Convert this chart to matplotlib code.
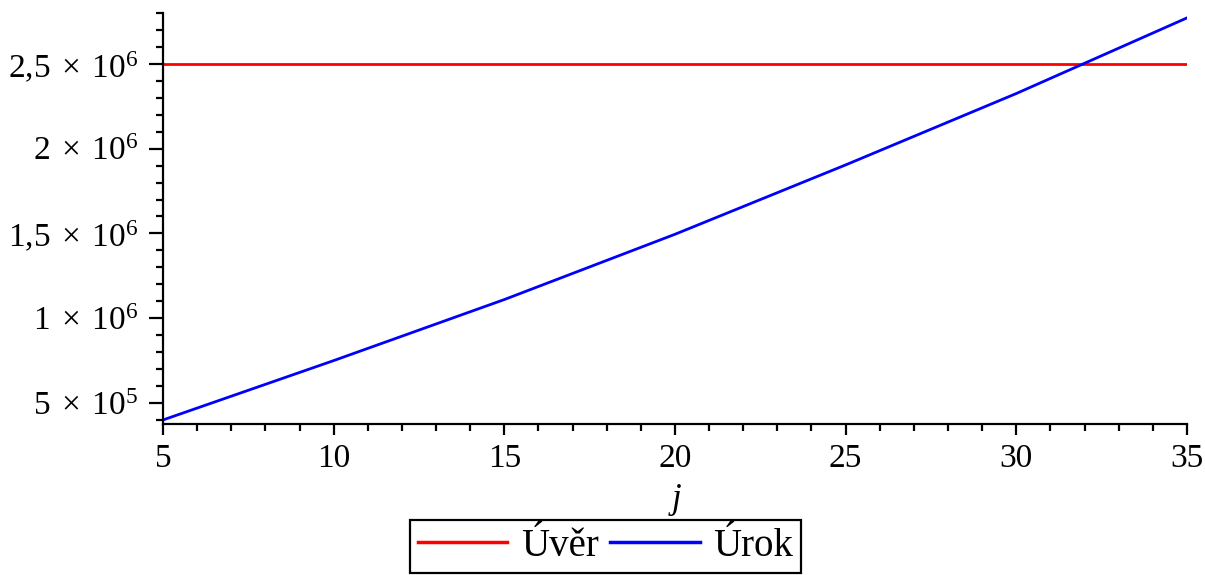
import matplotlib
matplotlib.use('Agg')
import matplotlib.pyplot as plt
from matplotlib.ticker import MultipleLocator, FuncFormatter

# values
j_vals = [5, 10, 15, 20, 25, 30, 35]
urok = [400000, 750000, 1110000, 1495000, 1904000, 2325000, 2771000]
uver = [2500000, 2500000]
uver_j = [5, 35]

plt.rcParams['font.family'] = ['Liberation Serif', 'DejaVu Serif']
plt.rcParams['mathtext.fontset'] = 'custom'
plt.rcParams['mathtext.rm'] = 'Liberation Serif'
plt.rcParams['mathtext.it'] = 'Liberation Serif:italic'


def sci_fmt(v, pos):
    if v <= 0:
        return ''
    exp = 0
    m = v
    while m >= 10:
        m /= 10.0
        exp += 1
    ms = ('%g' % round(m, 3)).replace('.', '{,}')
    return r'$\mathrm{%s}\;\times\;\mathrm{10^{%d}}$' % (ms, exp)


fig = plt.figure(figsize=(12.05, 5.75), dpi=100)
ax = fig.add_axes([0.1353, 0.2626, 0.8497, 0.7148])

ax.plot(uver_j, uver, color='#ff0000', lw=2, label='Úvěr')
ax.plot(j_vals, urok, color='#0000ff', lw=2, label='Úrok')

ax.set_xlim(5, 35)
ax.set_ylim(376000, 2800000)

ax.spines['top'].set_visible(False)
ax.spines['right'].set_visible(False)
for s in ('left', 'bottom'):
    ax.spines[s].set_linewidth(1.6)

ax.xaxis.set_major_locator(MultipleLocator(5))
ax.xaxis.set_minor_locator(MultipleLocator(1))
ax.yaxis.set_major_locator(MultipleLocator(500000))
ax.yaxis.set_minor_locator(MultipleLocator(100000))
ax.yaxis.set_major_formatter(FuncFormatter(sci_fmt))

ax.tick_params(axis='x', which='major', length=8, width=1.6, labelsize=24, pad=6)
ax.tick_params(axis='y', which='major', length=10, width=1.6, labelsize=24, pad=8)
ax.tick_params(axis='both', which='minor', length=5, width=1.6)

ax.set_xlabel('$j$', fontsize=25, labelpad=6)

leg = fig.legend(loc='upper center', bbox_to_anchor=(0.5025, 0.0957), ncol=2,
                 fontsize=28, frameon=True, fancybox=False, edgecolor='black',
                 framealpha=1, handlelength=2.3, handletextpad=0.35,
                 columnspacing=0.3, borderpad=0.2, borderaxespad=0)
leg.get_frame().set_linewidth(1.6)
for line in leg.get_lines():
    line.set_linewidth(2.5)

fig.savefig('out.png', dpi=100)
